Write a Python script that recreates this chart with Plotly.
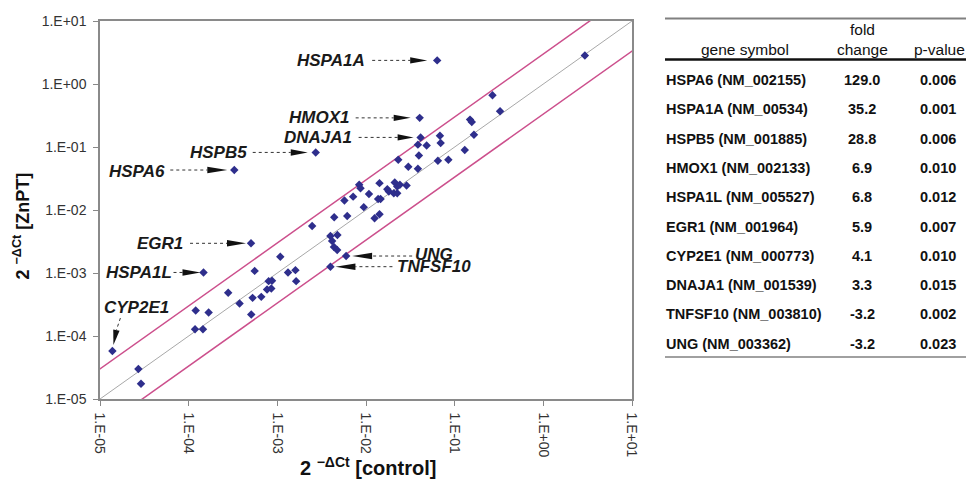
import numpy as np
import plotly.graph_objects as go

# ---------------- data ----------------
tick_vals = [1e-5, 1e-4, 1e-3, 1e-2, 1e-1, 1e0, 1e1]
tick_text = ["1.E-05", "1.E-04", "1.E-03", "1.E-02", "1.E-01", "1.E+00", "1.E+01"]

# labelled genes: 2^-dCt control vs ZnPT
label_genes = ["HSPA6", "HSPA1A", "HSPB5", "HMOX1", "HSPA1L", "EGR1", "CYP2E1", "DNAJA1", "TNFSF10", "UNG"]
label_control = [3.27e-4, 6.35e-2, 2.71e-3, 4.03e-2, 1.47e-4, 5.05e-4, 1.38e-5, 4.13e-2, 3.97e-3, 5.97e-3]
label_znpt = [4.31e-2, 2.37, 8.2e-2, 2.9e-1, 1.02e-3, 2.96e-3, 5.77e-5, 1.42e-1, 1.26e-3, 1.86e-3]

# remaining genes
other_control = [0.0231, 0.0300, 0.0385, 0.0395, 0.0647, 0.0849, 0.130, 0.0385, 0.0483, 0.0682,
                 0.0695, 0.165, 0.149, 0.156, 0.267, 0.325, 2.94, 0.00838, 0.00867, 0.0142,
                 0.0108, 0.0174, 0.0181, 0.0211, 0.0225, 0.0241, 0.0287, 0.0206, 0.0225, 0.0137,
                 0.0146, 0.00944, 0.00716, 0.00571, 0.00614, 0.00438, 0.0125, 0.0142, 0.00247, 0.00397,
                 0.00476, 0.00415, 0.00435, 0.00473, 0.00108, 0.000555, 0.00132, 0.00160, 0.00163, 0.000798,
                 0.000871, 0.000766, 0.000855, 0.000279, 0.000375, 0.000526, 0.000659, 0.000508, 0.000120, 0.000168,
                 0.000118, 0.000145, 0.0000271, 0.0000290]
other_znpt = [0.0628, 0.0485, 0.0451, 0.0735, 0.0605, 0.0628, 0.0895, 0.109, 0.106, 0.151,
              0.116, 0.157, 0.272, 0.250, 0.664, 0.369, 2.84, 0.0251, 0.0222, 0.0267,
              0.0180, 0.0214, 0.0196, 0.0273, 0.0236, 0.0251, 0.0245, 0.0185, 0.0185, 0.0149,
              0.0150, 0.0111, 0.0163, 0.0141, 0.00805, 0.00767, 0.00740, 0.00857, 0.00558, 0.00387,
              0.00402, 0.00322, 0.00258, 0.00232, 0.00181, 0.00108, 0.00102, 0.00111, 0.000743, 0.000743,
              0.000752, 0.000548, 0.000569, 0.000484, 0.000328, 0.000403, 0.000418, 0.000219, 0.000254, 0.000236,
              0.000128, 0.000128, 0.0000299, 0.0000175]

fold_threshold = 3
diag_x = [1e-6, 1e2]

# table
table_genes = ["HSPA6 (NM_002155)", "HSPA1A (NM_00534)", "HSPB5 (NM_001885)", "HMOX1 (NM_002133)",
               "HSPA1L (NM_005527)", "EGR1 (NM_001964)", "CYP2E1 (NM_000773)", "DNAJA1 (NM_001539)",
               "TNFSF10 (NM_003810)", "UNG (NM_003362)"]
table_fold = ["129.0", "35.2", "28.8", "6.9", "6.8", "5.9", "4.1", "3.3", "-3.2", "-3.2"]
table_p = ["0.006", "0.001", "0.006", "0.010", "0.012", "0.007", "0.010", "0.015", "0.002", "0.023"]

# ---------------- figure ----------------
FONT = "Liberation Sans, Arial, Helvetica, sans-serif"
MARKER = "#2E2E8C"
L, R, T, B = 100, 334, 21, 81
W, H = 966, 480
PW, PH = W - L - R, H - T - B

fig = go.Figure()

dx = np.array(diag_x)
fig.add_trace(go.Scatter(x=dx, y=dx, mode="lines", line=dict(color="#A8A8A8", width=1), hoverinfo="skip"))
fig.add_trace(go.Scatter(x=dx, y=dx * fold_threshold, mode="lines", line=dict(color="#CC4F8C", width=1.5), hoverinfo="skip"))
fig.add_trace(go.Scatter(x=dx, y=dx / fold_threshold, mode="lines", line=dict(color="#CC4F8C", width=1.5), hoverinfo="skip"))

fig.add_trace(go.Scatter(x=other_control, y=other_znpt, mode="markers",
                         marker=dict(symbol="diamond", size=6.5, color=MARKER)))
fig.add_trace(go.Scatter(x=label_control, y=label_znpt, mode="markers", hovertext=label_genes,
                         marker=dict(symbol="diamond", size=6.5, color=MARKER)))

# label geometry: screen-pixel offsets from point (y down):
# text (dx, dy, anchor), shaft tail, head base, head tip
geom = {
    "HSPA6":   ((-67, 1, "right"), (-64, 0), (-27, 0), (-7, 0)),
    "HSPB5":   ((-67, 0, "right"), (-63, 0), (-25, 0), (-8, 0)),
    "HSPA1A":  ((-70, 0, "right"), (-65, 0), (-27, 0), (-10, 0)),
    "HMOX1":   ((-69, 0, "right"), (-64, 0), (-26, 0), (-9, 0)),
    "DNAJA1":  ((-67, 0, "right"), (-62, 0), (-23, 0), (-7, 0)),
    "EGR1":    ((-66, 0, "right"), (-61, 0), (-24, 0), (-5, 0)),
    "HSPA1L":  ((-30, 0, "right"), (-30, 0), (-21, 0), (-3, 0)),
    "UNG":     ((67, -2, "left"), (66, 0), (26, 0), (6, 0)),
    "TNFSF10": ((65, 0, "left"), (62, 0), (25, 0), (5, 0)),
    "CYP2E1":  ((24, -44, "center"), (8, -33), (4, -21), (1, -6)),
}

def fmt(v):
    return str(round(float(v), 2))

shapes = []
annotations = []
for g, xv, yv in zip(label_genes, label_control, label_znpt):
    (tdx, tdy, anc), tail, base, tip = geom[g]
    # dotted shaft
    shaft = "M {} {} L {} {}".format(fmt(tail[0]), fmt(-tail[1]), fmt(base[0]), fmt(-base[1]))
    shapes.append(dict(type="path", xref="x", yref="y", xsizemode="pixel", ysizemode="pixel",
                       xanchor=xv, yanchor=yv, path=shaft,
                       line=dict(color="#333333", width=1, dash="dot")))
    # arrow head
    vx, vy = tip[0] - base[0], tip[1] - base[1]
    n = np.hypot(vx, vy)
    px_, py_ = -vy / n * 3.2, vx / n * 3.2
    pts = [(tip[0], tip[1]), (base[0] + px_, base[1] + py_), (base[0] - px_, base[1] - py_)]
    path = "M {} {} L {} {} L {} {} Z".format(*[c for p in pts for c in (fmt(p[0]), fmt(-p[1]))])
    shapes.append(dict(type="path", xref="x", yref="y", xsizemode="pixel", ysizemode="pixel",
                       xanchor=xv, yanchor=yv, path=path, fillcolor="#111111", line=dict(width=0)))
    annotations.append(dict(x=np.log10(xv), y=np.log10(yv), xref="x", yref="y", text=g, showarrow=False,
                            xanchor=anc, yanchor="middle", xshift=tdx, yshift=-tdy,
                            font=dict(family=FONT, size=17, color="#1a1a1a", weight="bold", style="italic")))

# table / title positioning helpers (pixel -> paper)
def px2x(px):
    return (px - L) / PW

def py2y(py):
    return (H - B - py) / PH

# axis titles
annotations.append(dict(x=px2x(368), y=py2y(481), xref="paper", yref="paper", yanchor="bottom",
                        text="2 <sup>\u2212\u0394Ct</sup> [control]", showarrow=False,
                        font=dict(family=FONT, size=20, color="#111", weight="bold")))
annotations.append(dict(x=px2x(8), y=py2y(226), xref="paper", yref="paper",
                        text="2 <sup>\u2212\u0394Ct</sup> [ZnPT]", showarrow=False, textangle=-90,
                        font=dict(family=FONT, size=18, color="#111", weight="bold")))

hdr_font = dict(family=FONT, size=15.5, color="#111")
row_font = dict(family=FONT, size=14.5, color="#111", weight="bold")
annotations.append(dict(x=px2x(745), y=py2y(49), xref="paper", yref="paper", text="gene symbol",
                        showarrow=False, xanchor="center", yanchor="middle", font=hdr_font))
annotations.append(dict(x=px2x(862), y=py2y(29), xref="paper", yref="paper", text="fold",
                        showarrow=False, xanchor="center", yanchor="middle", font=hdr_font))
annotations.append(dict(x=px2x(862), y=py2y(49), xref="paper", yref="paper", text="change",
                        showarrow=False, xanchor="center", yanchor="middle", font=hdr_font))
annotations.append(dict(x=px2x(939), y=py2y(49), xref="paper", yref="paper", text="p-value",
                        showarrow=False, xanchor="center", yanchor="middle", font=hdr_font))
for i, (gname, fc, pv) in enumerate(zip(table_genes, table_fold, table_p)):
    ry = 80 + 29.3 * i
    annotations.append(dict(x=px2x(664), y=py2y(ry), xref="paper", yref="paper", text=gname,
                            showarrow=False, xanchor="left", yanchor="middle", font=row_font))
    annotations.append(dict(x=px2x(862), y=py2y(ry), xref="paper", yref="paper", text=fc,
                            showarrow=False, xanchor="center", yanchor="middle", font=row_font))
    annotations.append(dict(x=px2x(938), y=py2y(ry), xref="paper", yref="paper", text=pv,
                            showarrow=False, xanchor="center", yanchor="middle", font=row_font))

shapes.append(dict(type="line", xref="paper", yref="paper", x0=px2x(665), x1=px2x(966),
                   y0=py2y(18.5), y1=py2y(18.5), line=dict(color="#808080", width=2)))
shapes.append(dict(type="line", xref="paper", yref="paper", x0=px2x(665), x1=px2x(966),
                   y0=py2y(59.5), y1=py2y(59.5), line=dict(color="#111111", width=2.5)))
shapes.append(dict(type="line", xref="paper", yref="paper", x0=px2x(665), x1=px2x(966),
                   y0=py2y(357), y1=py2y(357), line=dict(color="#808080", width=1.5)))

axis_common = dict(type="log", tickvals=tick_vals, ticktext=tick_text, ticks="outside", ticklen=5,
                   tickcolor="#888888", tickwidth=1, showline=True, linecolor="#8a8a8a", linewidth=1.5,
                   mirror=True, showgrid=False, zeroline=False, ticklabelstandoff=4,
                   tickfont=dict(family=FONT, size=14, color="#333333"))
fig.update_xaxes(range=[-5, 1], tickangle=90, **axis_common)
fig.update_yaxes(range=[-5, 1], **axis_common)

fig.update_layout(width=W, height=H, margin=dict(l=L, r=R, t=T, b=B, pad=0),
                  plot_bgcolor="white", paper_bgcolor="white", showlegend=False,
                  font=dict(family=FONT), shapes=shapes, annotations=annotations)

fig.write_html("out.html", config={"displayModeBar": False},
               post_script="document.body.style.margin='0px';document.body.style.overflow='hidden';")
